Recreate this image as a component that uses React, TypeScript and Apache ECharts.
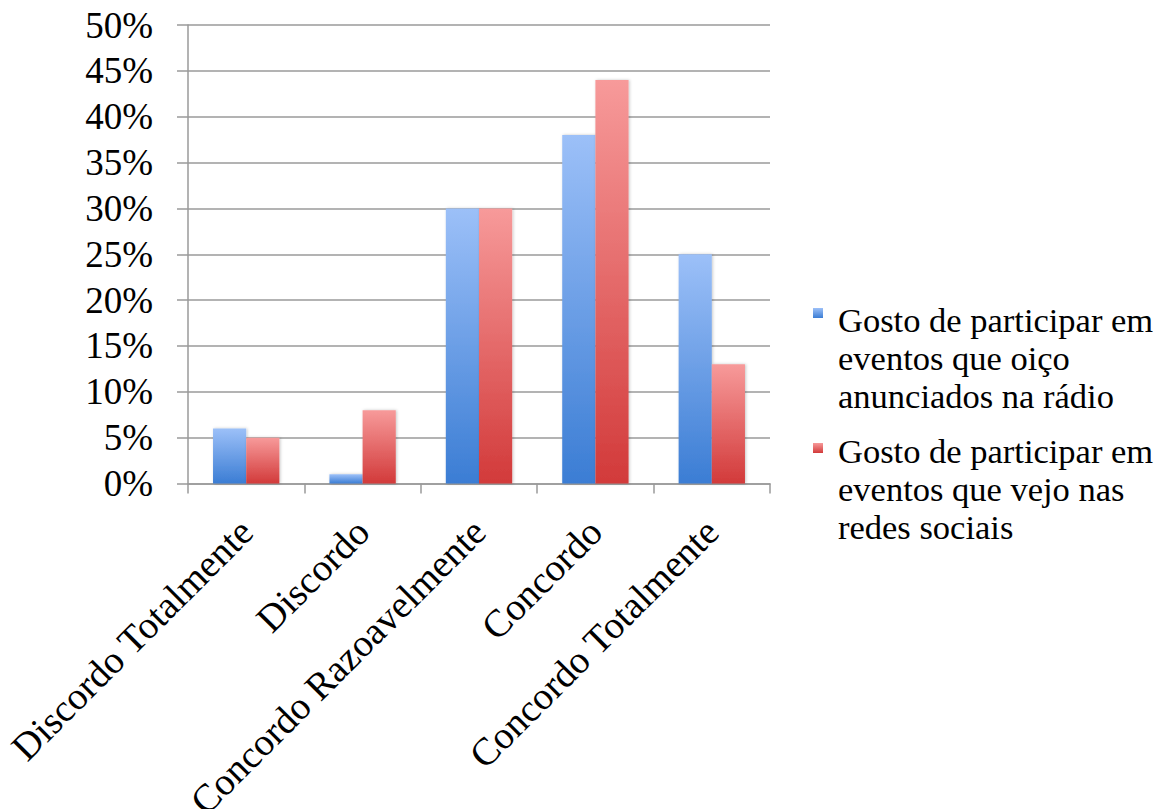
import React, { useEffect, useRef } from "react";
import * as echarts from "echarts";

// Response categories along the x axis
const categories = [
  "Discordo Totalmente",
  "Discordo",
  "Concordo Razoavelmente",
  "Concordo",
  "Concordo Totalmente",
];

// Share of respondents (%) per category
const radioValues = [6, 1, 30, 38, 25];
const socialValues = [5, 8, 30, 44, 13];

const seriesNames = [
  "Gosto de participar em eventos que oiço anunciados na rádio",
  "Gosto de participar em eventos que vejo nas redes sociais",
];

// Legend text wrapped as in the chart
const legendLines = [
  ["Gosto de participar em", "eventos que oiço", "anunciados na rádio"],
  ["Gosto de participar em", "eventos que vejo nas", "redes sociais"],
];

const yTicks = [0, 5, 10, 15, 20, 25, 30, 35, 40, 45, 50];

const FONT = '"Liberation Serif", "Times New Roman", serif';

const blueGradient = () =>
  new echarts.graphic.LinearGradient(0, 0, 0, 1, [
    { offset: 0, color: "#9cc0f8" },
    { offset: 1, color: "#3b7dd4" },
  ]);
const redGradient = () =>
  new echarts.graphic.LinearGradient(0, 0, 0, 1, [
    { offset: 0, color: "#f79a9a" },
    { offset: 1, color: "#d23a3a" },
  ]);

export default function App() {
  const ref = useRef<HTMLDivElement>(null);

  useEffect(() => {
    if (!ref.current) return;
    const chart = echarts.init(ref.current, undefined, { renderer: "svg" });

    const gradients = [blueGradient, redGradient];
    const legendIconTop = [308, 443];
    const legendTextTop = [301, 432];

    const legendGraphics: any[] = [];
    legendLines.forEach((lines, i) => {
      legendGraphics.push({
        type: "rect",
        left: 813,
        top: legendIconTop[i],
        shape: { width: 10, height: 10 },
        style: { fill: gradients[i]() },
      });
      legendGraphics.push({
        type: "text",
        left: 838,
        top: legendTextTop[i],
        style: {
          text: lines.join("\n"),
          font: `34.5px ${FONT}`,
          fill: "#000",
          lineHeight: 38,
        },
      });
    });

    const shadow = {
      shadowColor: "rgba(0,0,0,0.22)",
      shadowBlur: 3,
      shadowOffsetX: 1,
      shadowOffsetY: 0,
    };

    chart.setOption({
      animation: false,
      backgroundColor: "#ffffff",
      grid: {
        left: 188,
        right: 385,
        top: 25,
        bottom: 325.5,
        containLabel: false,
        outerBoundsMode: "none",
      },
      xAxis: {
        type: "category",
        data: categories,
        axisLine: { show: true, lineStyle: { color: "#9a9a9a", width: 1.5 } },
        axisTick: { show: true, length: 10, lineStyle: { color: "#9a9a9a", width: 1.5 } },
        axisLabel: {
          rotate: 45,
          margin: 42,
          interval: 0,
          color: "#000",
          fontFamily: FONT,
          fontSize: 38.5,
        },
        splitLine: { show: false },
      },
      yAxis: {
        type: "value",
        min: yTicks[0],
        max: yTicks[yTicks.length - 1],
        interval: 5,
        axisLine: { show: true, lineStyle: { color: "#9a9a9a", width: 1.5 } },
        axisTick: { show: true, length: 11, lineStyle: { color: "#9a9a9a", width: 1.5 } },
        axisLabel: {
          margin: 35,
          color: "#000",
          fontFamily: FONT,
          fontSize: 37,
          formatter: (v: number) => `${v}%`,
        },
        splitLine: { show: true, lineStyle: { color: "#9a9a9a", width: 1.5 } },
      },
      series: [
        {
          name: seriesNames[0],
          type: "bar",
          data: radioValues,
          barGap: "0%",
          barCategoryGap: "43%",
          itemStyle: { color: blueGradient(), ...shadow },
        },
        {
          name: seriesNames[1],
          type: "bar",
          data: socialValues,
          barGap: "0%",
          barCategoryGap: "43%",
          itemStyle: { color: redGradient(), ...shadow },
        },
      ],
      graphic: legendGraphics,
    });

    return () => chart.dispose();
  }, []);

  return (
    <div
      ref={ref}
      style={{ position: "absolute", left: 0, top: 0, width: 1155, height: 809 }}
    />
  );
}
